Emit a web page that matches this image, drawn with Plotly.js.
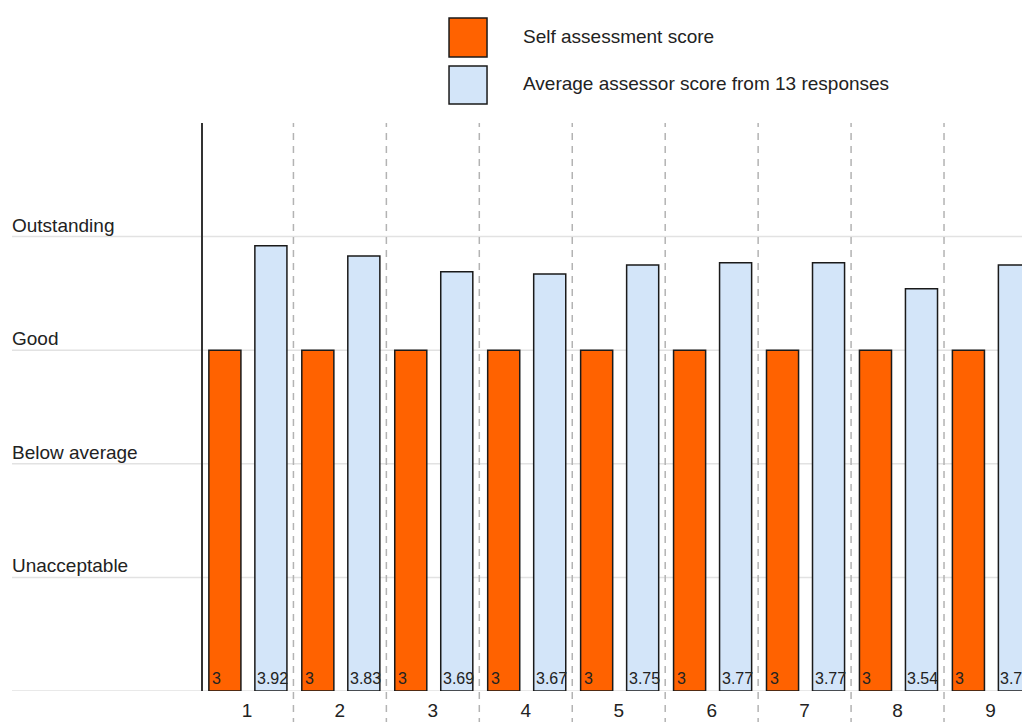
<!DOCTYPE html>
<html>
<head>
<meta charset="utf-8">
<script src="https://cdn.plot.ly/plotly-3.0.1.min.js"></script>
<style>html,body{margin:0;padding:0;background:#fff;}#chart{width:1022px;height:722px;}</style>
</head>
<body>
<div id="chart"></div>
<script>
// ---- data ----
var categories = [1, 2, 3, 4, 5, 6, 7, 8, 9];
var tickLabels = ["1", "2", "3", "4", "5", "6", "7", "8", "9"];
var selfScores = [3, 3, 3, 3, 3, 3, 3, 3, 3];
var assessorScores = [3.92, 3.83, 3.69, 3.67, 3.75, 3.77, 3.77, 3.54, 3.75];
var levelValues = [1, 2, 3, 4];
var levelLabels = ["Unacceptable", "Below average", "Good", "Outstanding"];
var seriesNames = ["Self assessment score", "Average assessor score from 13 responses"];

// ---- style ----
var FONT = "Liberation Sans, Arial, sans-serif";
var orange = "#FF6200";
var lightBlue = "#D3E5F9";
var outline = "#1a1a1a";
var barWidth = 0.345;
var offOrange = -0.41;
var offBlue = 0.085;

var traces = [
  {type: "bar", x: categories, y: selfScores, name: seriesNames[0],
   offset: offOrange, width: barWidth,
   marker: {color: orange, line: {color: outline, width: 1.5}}, hoverinfo: "y"},
  {type: "bar", x: categories, y: assessorScores, name: seriesNames[1],
   offset: offBlue, width: barWidth,
   marker: {color: lightBlue, line: {color: outline, width: 1.5}}, hoverinfo: "y"}
];

var shapes = [];
var annotations = [];
var leftPaper = -0.2332;

// horizontal grid lines including baseline
[0].concat(levelValues).forEach(function (v) {
  shapes.push({type: "line", layer: "below", xref: "paper", yref: "y",
    x0: leftPaper, x1: 1, y0: v, y1: v, line: {color: "#e2e2e2", width: 1.5}});
});
// vertical dashed separators between categories
categories.slice(0, -1).forEach(function (c) {
  shapes.push({type: "line", layer: "below", xref: "x", yref: "paper",
    x0: c + 0.5, x1: c + 0.5, y0: -0.06, y1: 1,
    line: {color: "#b3b3b3", width: 1.5, dash: "7px,6px"}});
});
// level labels
levelValues.forEach(function (v, i) {
  annotations.push({xref: "paper", yref: "y", x: leftPaper, y: v,
    xanchor: "left", yanchor: "bottom", showarrow: false, xshift: -2, yshift: -1,
    text: levelLabels[i], font: {family: FONT, size: 19, color: "#222"}});
});
// bar value labels
categories.forEach(function (c, i) {
  annotations.push({xref: "x", yref: "y", x: c + offOrange, y: 0,
    xanchor: "left", yanchor: "bottom", showarrow: false, xshift: 1, yshift: 2,
    text: String(selfScores[i]), font: {family: FONT, size: 16, color: "#222"}});
  annotations.push({xref: "x", yref: "y", x: c + offBlue, y: 0,
    xanchor: "left", yanchor: "bottom", showarrow: false, xshift: 0, yshift: 2,
    text: String(assessorScores[i]), font: {family: FONT, size: 16, color: "#222"}});
});
// legend
var legendColors = [orange, lightBlue];
var legendY = [[1.1849, 1.1162], [1.1004, 1.0335]];
seriesNames.forEach(function (n, i) {
  shapes.push({type: "rect", xref: "paper", yref: "paper",
    x0: 0.3004, x1: 0.3468, y0: legendY[i][1], y1: legendY[i][0],
    fillcolor: legendColors[i], line: {color: outline, width: 1.5}});
  annotations.push({xref: "paper", yref: "paper", x: 0.392,
    y: (legendY[i][0] + legendY[i][1]) / 2, xanchor: "left", yanchor: "middle",
    showarrow: false, xshift: -3, yshift: 1, text: n,
    font: {family: FONT, size: 19, color: "#222"}});
});

var layout = {
  width: 1022, height: 722,
  margin: {l: 203, r: 0, t: 123, b: 31, pad: 0},
  paper_bgcolor: "#fff", plot_bgcolor: "rgba(0,0,0,0)",
  showlegend: false, barmode: "overlay",
  font: {family: FONT, size: 19, color: "#222"},
  xaxis: {range: [0.527, 9.339], tickvals: categories, ticktext: tickLabels,
    showgrid: false, zeroline: false, showline: false, ticks: "",
    ticklabelstandoff: 6,
    tickfont: {family: FONT, size: 19, color: "#222"}, fixedrange: true},
  yaxis: {range: [0, 5], showgrid: false, zeroline: false, showticklabels: false,
    showline: true, linecolor: "#333", linewidth: 2, ticks: "", fixedrange: true},
  shapes: shapes,
  annotations: annotations
};

Plotly.newPlot("chart", traces, layout, {displayModeBar: false, staticPlot: true});
</script>
</body>
</html>
